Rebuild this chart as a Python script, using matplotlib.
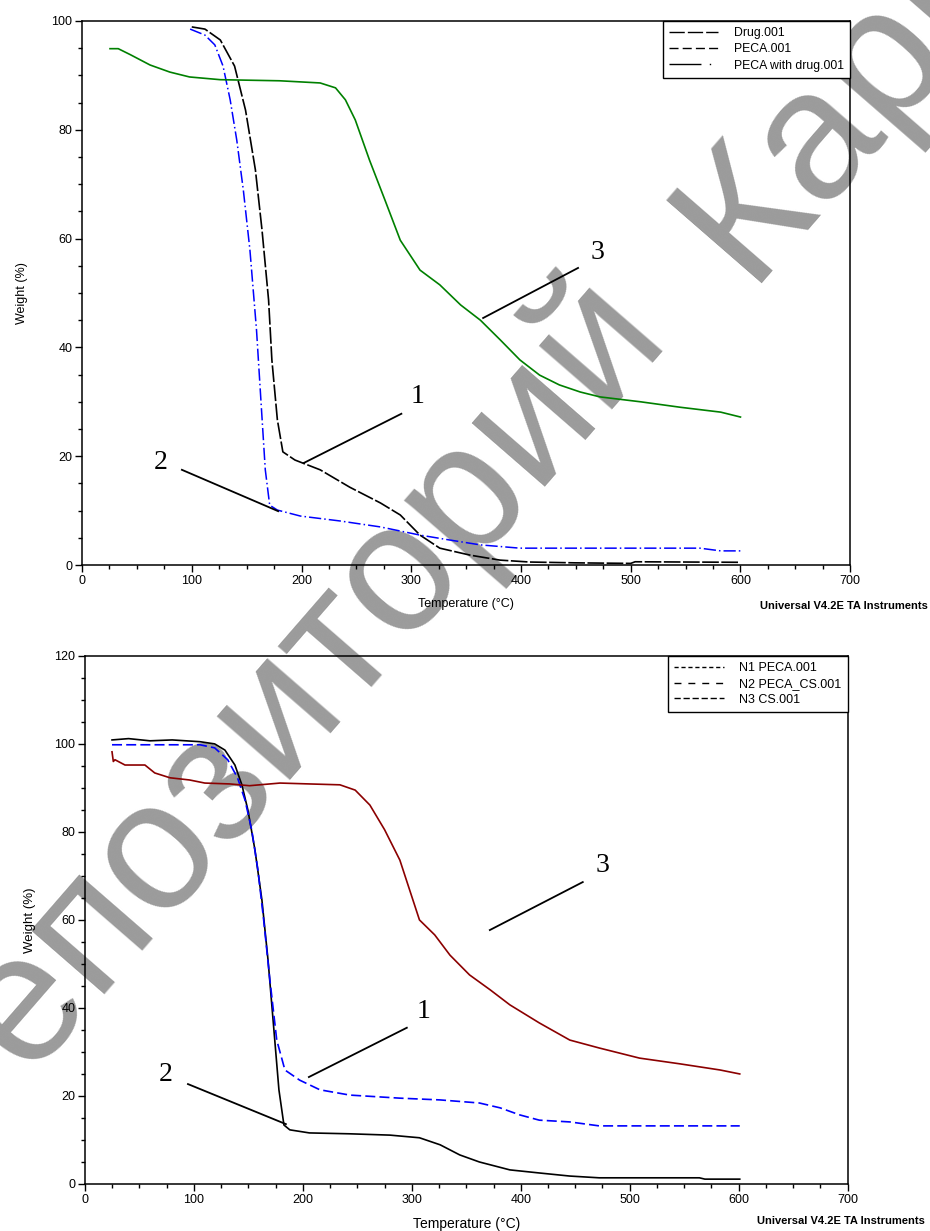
import matplotlib.pyplot as plt
from matplotlib.lines import Line2D
from matplotlib.ticker import MultipleLocator

# --- top panel: drug / PECA / PECA with drug ---
drug_t = [100, 112, 126, 139, 149, 158, 164, 170, 173, 178, 183, 194, 217, 244, 272,
          290, 308, 326, 354, 381, 408, 450, 500, 504, 600]
drug_w = [98.9, 98.5, 96.5, 91.7, 83.6, 72.6, 61.6, 48.7, 37.7, 26.7, 20.8, 19.3, 17.5,
          14.3, 11.4, 9.2, 5.5, 3.1, 1.8, 0.9, 0.55, 0.4, 0.3, 0.6, 0.5]

pdrug_t = [98.5, 112, 121, 128.5, 135, 141, 147, 153, 159, 163, 167, 171, 178, 199, 235,
           272, 308, 335, 363, 399, 472, 563, 582, 600]
pdrug_w = [98.5, 97.4, 95.6, 91.7, 85.5, 78.1, 68.9, 57.9, 43.2, 30.3, 17.5, 11.0, 10.1,
           9.0, 8.1, 7.0, 5.5, 4.6, 3.7, 3.1, 3.1, 3.1, 2.6, 2.6]

peca_t = [25.5, 33, 44, 62, 80, 98, 126, 180, 217, 231, 240, 249, 262, 276, 290, 308,
          326, 345, 363, 381, 399, 417, 435, 454, 472, 509, 545, 582, 600]
peca_w = [94.9, 94.9, 93.8, 91.9, 90.6, 89.7, 89.2, 89.0, 88.6, 87.7, 85.5, 81.8, 74.4,
          67.1, 59.7, 54.2, 51.5, 47.8, 45.0, 41.4, 37.7, 34.9, 33.1, 31.8, 30.9, 30.0,
          29.0, 28.1, 27.2]

# --- bottom panel: N1 / N2 / N3 ---
n1_t = [24.8, 40, 59.6, 80, 105.5, 119, 128.4, 137.6, 144, 149.5, 156, 162.4, 168, 173.4,
        178, 182.6, 188, 206, 243, 280, 307, 326, 344, 362, 390, 417, 445, 472, 518, 564,
        569, 601]
n1_w = [100.9, 101.2, 100.7, 100.9, 100.5, 100.0, 98.6, 95.2, 90.7, 85.0, 75.9, 64.5,
        50.9, 35.0, 21.4, 13.4, 12.3, 11.6, 11.4, 11.1, 10.5, 8.9, 6.6, 5.0, 3.2, 2.5,
        1.8, 1.4, 1.4, 1.4, 1.1, 1.1]

n2_t = [24.8, 105.5, 119, 131, 140, 146.8, 153, 158.7, 164, 169.7, 176, 183.5, 197,
        215.6, 243, 289, 326, 362, 381, 399, 417, 445, 472, 601]
n2_w = [99.8, 99.8, 99.1, 96.4, 92.3, 87.3, 80.5, 71.4, 60.0, 46.4, 32.7, 25.9, 23.6,
        21.4, 20.2, 19.5, 19.1, 18.4, 17.3, 15.7, 14.5, 14.1, 13.2, 13.2]

n3_t = [24.8, 26, 27.5, 36.7, 55, 64, 78, 96, 110, 133, 151, 179, 206, 234, 248, 261.5,
        275, 289, 298, 307, 321, 335, 353, 372, 390, 417, 445, 472, 509, 546, 583, 601]
n3_w = [98.2, 96.0, 96.4, 95.2, 95.2, 93.4, 92.3, 91.8, 91.1, 90.9, 90.5, 91.1, 90.9,
        90.7, 89.5, 86.1, 80.5, 73.6, 66.8, 60.0, 56.6, 52.0, 47.5, 44.1, 40.7, 36.6,
        32.7, 30.9, 28.6, 27.3, 25.9, 25.0]

top_labels = ['Drug.001', 'PECA.001', 'PECA with drug.001']
bottom_labels = ['N1 PECA.001', 'N2 PECA_CS.001', 'N3 CS.001']

# curve number: (label x, label y, line start x, line start y, line end x, line end y)
top_marks = {'3': (470, 57.4, 365.5, 45.4, 452, 54.6),
             '1': (306, 30.9, 202, 18.75, 291, 27.8),
             '2': (72, 18.9, 91, 17.5, 178.7, 9.9)}
bottom_marks = {'3': (475, 72.3, 371.6, 57.7, 456.9, 68.6),
                '1': (311, 39.1, 205.5, 24.3, 295.4, 35.5),
                '2': (74.3, 24.8, 94.5, 22.7, 184.4, 13.6)}

plt.rcParams['font.family'] = ['Liberation Sans', 'DejaVu Sans']

fig = plt.figure(figsize=(9.3, 12.31), dpi=100)
ax1 = fig.add_axes([0.0882, 0.541, 0.826, 0.442])
ax2 = fig.add_axes([0.0914, 0.0382, 0.820, 0.429])

# watermark behind everything
wm = dict(fontsize=132, color='#9b9b9b', rotation=49, rotation_mode='anchor',
          va='baseline', zorder=-5)
fig.text(0.717, 0.732, 'Репозиторий', ha='right', **wm)
fig.text(0.804, 0.770, 'КарГУ', ha='left', **wm)


def style_axes(ax, ymax):
    ax.set_facecolor('none')
    ax.set_xlim(0, 700)
    ax.set_ylim(0, ymax)
    ax.xaxis.set_major_locator(MultipleLocator(100))
    ax.xaxis.set_minor_locator(MultipleLocator(25))
    ax.yaxis.set_major_locator(MultipleLocator(20))
    ax.yaxis.set_minor_locator(MultipleLocator(5))
    for s in ax.spines.values():
        s.set_linewidth(1.1)
    ax.tick_params(which='major', direction='out', length=5, width=1, labelsize=9, pad=2)
    ax.tick_params(which='minor', direction='out', length=3, width=1)
    ax.set_xlabel('Temperature (°C)', fontsize=9, labelpad=8)


def draw_marks(ax, marks):
    for num, (tx, ty, x0, y0, x1, y1) in marks.items():
        ax.plot([x0, x1], [y0, y1], color='black', lw=1.3)
        ax.text(tx, ty, num, fontsize=20, family='Liberation Serif', ha='center', va='center')


# top
style_axes(ax1, 100)
ax1.set_ylabel('Weight (%)', fontsize=9, labelpad=17)
ax1.plot(drug_t, drug_w, color='black', lw=1.2, dashes=(10, 1.5))
ax1.plot(pdrug_t, pdrug_w, color='blue', lw=1.1, dashes=(8, 2, 1, 2))
ax1.plot(peca_t, peca_w, color='green', lw=1.2)
draw_marks(ax1, top_marks)
h1 = [Line2D([], [], color='black', lw=1, dashes=(11, 2.2)),
      Line2D([], [], color='black', lw=1, dashes=(6.5, 3)),
      Line2D([], [], color='black', lw=1, dashes=(23, 6, 1, 6))]
leg1 = ax1.legend(h1, top_labels, loc='upper right', borderaxespad=0, fontsize=8.8,
                  handlelength=4.0, fancybox=False, edgecolor='black', framealpha=1,
                  labelspacing=0.35, borderpad=0.5, handletextpad=1.3)
leg1.get_frame().set_linewidth(1)
fig.text(0.817, 0.508, 'Universal V4.2E TA Instruments', fontsize=8, fontweight='bold',
         ha='left', va='center')

# bottom
style_axes(ax2, 120)
ax2.set_ylabel('Weight (%)', fontsize=9.5, labelpad=13)
ax2.plot(n1_t, n1_w, color='black', lw=1.2)
ax2.plot(n2_t, n2_w, color='blue', lw=1.2, dashes=(6, 2.5))
ax2.plot(n3_t, n3_w, color='#8b0000', lw=1.2)
draw_marks(ax2, bottom_marks)
ax2.xaxis.label.set_size(10)
h2 = [Line2D([], [], color='black', lw=1, dashes=(3, 2)),
      Line2D([], [], color='black', lw=1, dashes=(5, 5)),
      Line2D([], [], color='black', lw=1, dashes=(4.5, 2))]
leg2 = ax2.legend(h2, bottom_labels, loc='upper right', borderaxespad=0, fontsize=9,
                  handlelength=4.0, fancybox=False, edgecolor='black', framealpha=1,
                  labelspacing=0.3, borderpad=0.5, handletextpad=1.2)
leg2.get_frame().set_linewidth(1)
fig.text(0.814, 0.0085, 'Universal V4.2E TA Instruments', fontsize=8, fontweight='bold',
         ha='left', va='center')

fig.savefig('out.png', dpi=100)
